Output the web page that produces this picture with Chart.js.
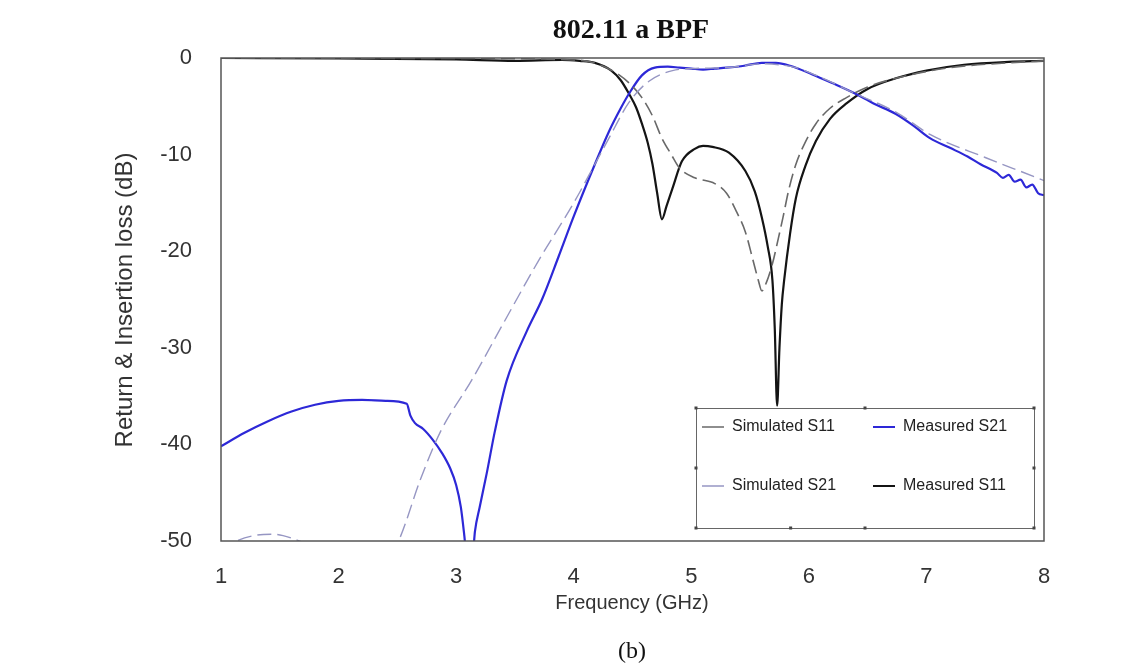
<!DOCTYPE html>
<html>
<head>
<meta charset="utf-8">
<script src="https://cdn.jsdelivr.net/npm/chart.js@4.4.1/dist/chart.umd.min.js"></script>
<style>
  html, body { margin: 0; padding: 0; background: #fff; }
  #wrap { width: 1140px; height: 672px; }
</style>
</head>
<body>
<div id="wrap"><canvas id="chart" width="1140" height="672"></canvas></div>
<script>
// values (frequency in GHz, level in dB)
const measS21F = [1.0, 1.2, 1.4, 1.6, 1.8, 2.0, 2.2, 2.4, 2.58, 2.61, 2.65, 2.72, 2.8, 2.88, 2.95, 3.0, 3.04, 3.07, 3.1, 3.13, 3.16, 3.2, 3.26, 3.33, 3.43, 3.6, 3.73, 3.87, 4.0, 4.18, 4.3, 4.4, 4.47, 4.58, 4.69, 4.8, 4.9, 5.0, 5.1, 5.2, 5.3, 5.45, 5.6, 5.72, 5.84, 6.03, 6.2, 6.38, 6.55, 6.74, 6.9, 7.03, 7.2, 7.35, 7.46, 7.6, 7.65, 7.7, 7.75, 7.8, 7.85, 7.9, 7.95, 8.0];
const measS21 = [-40.2, -38.8, -37.6, -36.6, -35.9, -35.5, -35.4, -35.5, -35.8, -37.0, -37.8, -38.4, -39.5, -40.9, -42.5, -44.2, -46.5, -49.5, -53, -53, -49, -46.5, -43, -38.6, -33.4, -28.3, -25.0, -20.6, -16.4, -11.0, -7.6, -5.2, -3.7, -1.8, -1.0, -0.9, -1.0, -1.1, -1.2, -1.1, -1.0, -0.8, -0.5, -0.5, -0.8, -1.7, -2.6, -3.6, -4.7, -5.8, -7.1, -8.3, -9.3, -10.2, -11.0, -11.9, -12.4, -12.1, -12.8, -12.6, -13.4, -13.1, -14.0, -14.2];

const simS21F = [1.0, 1.15, 1.3, 1.45, 1.6, 1.75, 1.9, 2.3, 2.51, 2.7, 2.87, 3.13, 3.4, 3.7, 4.0, 4.18, 4.3, 4.47, 4.64, 4.84, 5.0, 5.3, 5.6, 5.75, 5.89, 6.1, 6.38, 6.74, 7.03, 7.5, 7.94, 8.0];
const simS21 = [-51, -49.9, -49.4, -49.3, -49.7, -50.5, -52, -54, -50, -43.5, -38.6, -33.4, -27.5, -21, -15.0, -11.0, -8.3, -4.6, -2.4, -1.3, -1.1, -1.0, -0.6, -0.7, -1.0, -2.0, -3.6, -5.6, -7.9, -10.3, -12.4, -12.7];

const measS11F = [1.0, 2.0, 3.0, 3.5, 3.9, 4.05, 4.18, 4.32, 4.4, 4.47, 4.53, 4.58, 4.63, 4.67, 4.71, 4.75, 4.79, 4.84, 4.92, 5.03, 5.1, 5.18, 5.32, 5.46, 5.54, 5.6, 5.65, 5.69, 5.71, 5.73, 5.75, 5.77, 5.79, 5.84, 5.89, 5.97, 6.06, 6.18, 6.32, 6.5, 6.74, 7.0, 7.32, 7.7, 8.0];
const measS11 = [0, -0.05, -0.15, -0.3, -0.2, -0.3, -0.5, -1.3, -2.3, -3.7, -5.1, -6.8, -8.8, -11, -14, -16.7, -15.3, -13.5, -10.7, -9.4, -9.1, -9.2, -9.8, -11.7, -13.8, -16.5, -19.5, -23, -28, -36, -30, -25.5, -23, -18.2, -14.5, -11.2, -8.6, -6.3, -4.7, -3.2, -2.1, -1.3, -0.7, -0.4, -0.3];

const simS11F = [1.0, 3.0, 4.0, 4.2, 4.38, 4.48, 4.58, 4.67, 4.75, 4.83, 4.9, 5.03, 5.2, 5.3, 5.38, 5.46, 5.52, 5.57, 5.6, 5.64, 5.69, 5.74, 5.78, 5.83, 5.89, 5.97, 6.06, 6.18, 6.32, 6.5, 6.74, 7.2, 7.7, 8.0];
const simS11 = [0, -0.05, -0.2, -0.6, -1.7, -2.7, -4.1, -6.0, -8.3, -10.0, -11.4, -12.4, -13.0, -14.0, -15.8, -18.0, -20.7, -23, -24.1, -23.2, -21.3, -18.7, -16.5, -13.6, -11, -8.7, -6.8, -5.2, -4.1, -3.0, -2.1, -1.0, -0.5, -0.3];

const xTicks = [1, 2, 3, 4, 5, 6, 7, 8];
const yTicks = [0, -10, -20, -30, -40, -50];

const toPoints = (fs, vs) => fs.map((f, i) => ({ x: f, y: vs[i] }));

const colors = {
  measS21: 'rgb(45,40,215)',
  simS21: 'rgb(150,150,195)',
  measS11: 'rgb(20,20,20)',
  simS11: 'rgb(105,105,105)'
};

// frame, titles, caption and boxed legend
const decor = {
  id: 'decor',
  afterDatasetsDraw(chart) {
    const c = chart.ctx;
    const a = chart.chartArea;
    c.save();
    c.strokeStyle = '#555';
    c.lineWidth = 1.5;
    c.strokeRect(a.left, a.top, a.right - a.left, a.bottom - a.top);

    // legend box
    const bx = 696, by = 408, bw = 338, bh = 120;
    c.fillStyle = '#fff';
    c.fillRect(bx, by, bw, bh);
    c.strokeStyle = '#666';
    c.lineWidth = 1;
    c.strokeRect(bx + 0.5, by + 0.5, bw, bh);
    c.fillStyle = '#444';
    [[0, 0], [0.5, 0], [1, 0], [0, 0.5], [1, 0.5], [0, 1], [0.28, 1], [0.5, 1], [1, 1]].forEach(p => {
      c.fillRect(bx + p[0] * bw - 1.5, by + p[1] * bh - 1.5, 3, 3);
    });
    const items = [
      { t: 'Simulated S11', col: colors.simS11, x: 702, y: 427, w: 1.5 },
      { t: 'Measured S21', col: colors.measS21, x: 873, y: 427, w: 2 },
      { t: 'Simulated S21', col: colors.simS21, x: 702, y: 486, w: 1.5 },
      { t: 'Measured S11', col: colors.measS11, x: 873, y: 486, w: 2 }
    ];
    c.font = '16px "Liberation Sans", Arial, sans-serif';
    c.textBaseline = 'middle';
    c.textAlign = 'left';
    items.forEach(it => {
      c.strokeStyle = it.col;
      c.lineWidth = it.w;
      c.beginPath();
      c.moveTo(it.x, it.y);
      c.lineTo(it.x + 22, it.y);
      c.stroke();
      c.fillStyle = '#222';
      c.fillText(it.t, it.x + 30, it.y);
    });

    // texts
    c.fillStyle = '#111';
    c.textAlign = 'center';
    c.font = 'bold 28px "Liberation Serif", "Times New Roman", serif';
    c.fillText('802.11 a BPF', 631, 31);
    c.fillStyle = '#333';
    c.font = '20px "Liberation Sans", Arial, sans-serif';
    c.fillText('Frequency (GHz)', 632, 603);
    c.save();
    c.translate(125, 300);
    c.rotate(-Math.PI / 2);
    c.font = '24px "Liberation Sans", Arial, sans-serif';
    c.fillText('Return & Insertion loss (dB)', 0, 0);
    c.restore();
    c.fillStyle = '#111';
    c.font = '24px "Liberation Serif", "Times New Roman", serif';
    c.fillText('(b)', 632, 652);
    c.restore();
  }
};

let ctx = document.getElementById('chart').getContext('2d');

let chart = new Chart(ctx, {
  type: 'line',
  data: {
    datasets: [
      {
        label: 'Simulated S21',
        data: toPoints(simS21F, simS21),
        borderColor: colors.simS21,
        borderWidth: 1.4,
        borderDash: [14, 6]
      },
      {
        label: 'Simulated S11',
        data: toPoints(simS11F, simS11),
        borderColor: colors.simS11,
        borderWidth: 1.6,
        borderDash: [14, 6]
      },
      {
        label: 'Measured S21',
        data: toPoints(measS21F, measS21),
        borderColor: colors.measS21,
        borderWidth: 2.2
      },
      {
        label: 'Measured S11',
        data: toPoints(measS11F, measS11),
        borderColor: colors.measS11,
        borderWidth: 2.2
      }
    ]
  },
  options: {
    responsive: false,
    animation: false,
    parsing: false,
    elements: {
      point: { radius: 0 },
      line: { cubicInterpolationMode: 'monotone', fill: false }
    },
    layout: { padding: { top: 58, right: 96, left: 0, bottom: 0 } },
    plugins: {
      legend: { display: false },
      title: { display: false },
      tooltip: { enabled: false }
    },
    scales: {
      x: {
        type: 'linear',
        min: 1,
        max: 8,
        afterBuildTicks: s => { s.ticks = xTicks.map(v => ({ value: v })); },
        afterFit: s => { s.height = 131; },
        grid: { display: false, drawTicks: false, tickLength: 0 },
        border: { display: false },
        ticks: {
          color: '#333',
          padding: 23,
          maxRotation: 0,
          font: { family: '"Liberation Sans", Arial, sans-serif', size: 22 }
        }
      },
      y: {
        min: -50,
        max: 0,
        afterBuildTicks: s => { s.ticks = yTicks.map(v => ({ value: v })); },
        afterFit: s => { s.width = 221; },
        grid: { display: false, drawTicks: false, tickLength: 0 },
        border: { display: false },
        ticks: {
          color: '#333',
          padding: 29,
          font: { family: '"Liberation Sans", Arial, sans-serif', size: 22 }
        }
      }
    }
  },
  plugins: [decor]
});
</script>
</body>
</html>
